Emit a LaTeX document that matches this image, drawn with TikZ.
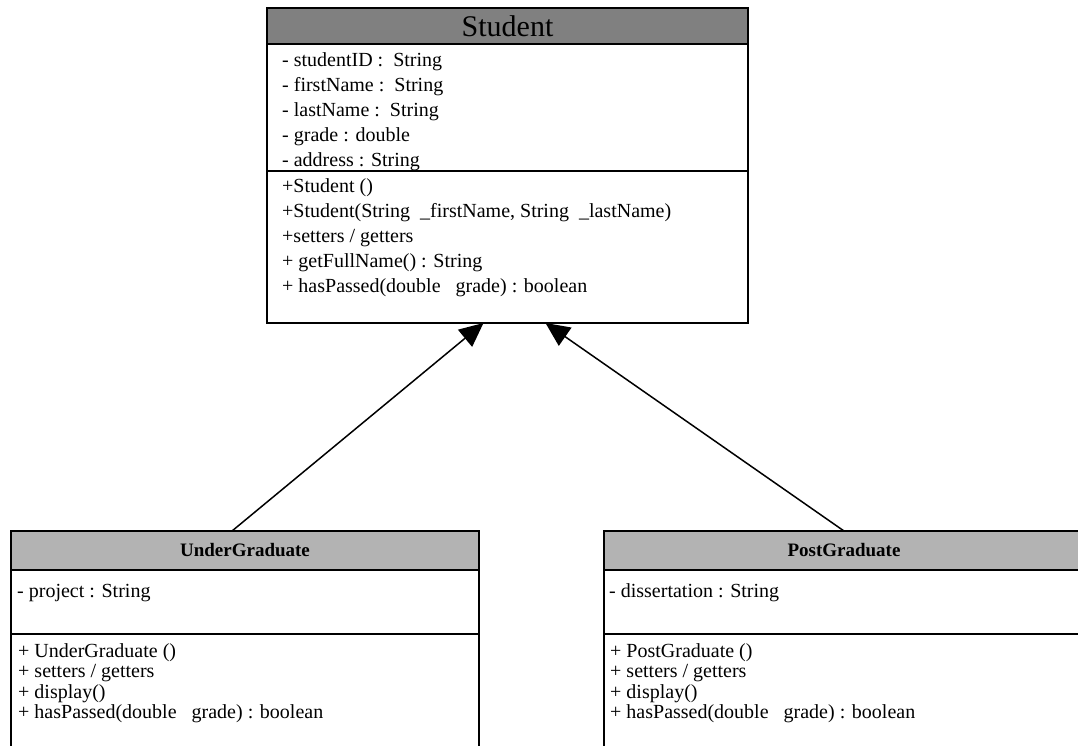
\documentclass[tikz,border=0pt]{standalone}
\usepackage{fontspec}
\setmainfont{Liberation Serif}
\usepackage{xcolor}
\usetikzlibrary{arrows.meta}
\definecolor{headgray}{RGB}{128,128,128}
\definecolor{subgray}{RGB}{179,179,179}
\tikzset{classbox/.style = {draw, rectangle, inner sep=0pt, outer sep=0pt, anchor=north west},
  member/.style = {anchor=base west, inner sep=0pt, font=\fontsize{20}{24}\selectfont},
  inherit/.style = {line width=1.5pt, -{Triangle[length=24pt,width=22pt]}}}

\begin{document}
\begin{tikzpicture}[x=1pt,y=-1pt]
  \useasboundingbox (0,0) rectangle (1078,745);
  \clip (0,0) rectangle (1078,745);
  % Student
  \node[classbox, line width=2.2pt, fill=headgray, minimum width=481pt, minimum height=36pt] (stuhead) at (267,8) {};
  \node[classbox, line width=2.2pt, minimum width=481pt, minimum height=315pt] (stu) at (267,8) {};
  \node[font=\fontsize{30}{30}\selectfont, inner sep=0pt] (stuname) at (stuhead.center) {Student};
  \draw[line width=1.3pt] (stu.west |- 0,171) -- (stu.east |- 0,171);
  \foreach \txt [count=\i from 0] in {- studentID :~~String, - firstName :~~String, - lastName :~~String,
      - grade : double, - address : String}
    \node[member] (sattr\i) at (282,{66.5+25*\i}) {\txt};
  \foreach \txt [count=\i from 0] in {+Student (), {+Student(String~~\_firstName, String~~\_lastName)},
      +setters / getters, + getFullName() : String, + hasPassed(double~~~grade) : boolean}
    \node[member] (sop\i) at (282,{192+25*\i}) {\txt};
  % UnderGraduate
  \node[classbox, line width=1.3pt, fill=subgray, minimum width=468pt, minimum height=39pt] (ughead) at (11,531) {};
  \node[classbox, line width=1.3pt, minimum width=468pt, minimum height=230pt] (ug) at (11,531) {};
  \node[font=\fontsize{19}{19}\selectfont\bfseries, inner sep=0pt] (ugname) at (ughead.center) {UnderGraduate};
  \draw[line width=1.3pt] (ug.west |- 0,634) -- (ug.east |- 0,634);
  \node[member] (uattr0) at (17,597) {- project : String};
  \foreach \txt [count=\i from 0] in {+ UnderGraduate (), + setters / getters, + display(),
      + hasPassed(double~~~grade) : boolean}
    \node[member] (uop\i) at (18,{657+20.5*\i}) {\txt};
  % PostGraduate
  \node[classbox, line width=1.3pt, fill=subgray, minimum width=480pt, minimum height=39pt] (pghead) at (604,531) {};
  \node[classbox, line width=1.3pt, minimum width=480pt, minimum height=230pt] (pg) at (604,531) {};
  \node[font=\fontsize{19}{19}\selectfont\bfseries, inner sep=0pt] (pgname) at (pghead.center) {PostGraduate};
  \draw[line width=1.3pt] (pg.west |- 0,634) -- (pg.east |- 0,634);
  \node[member] (pattr0) at (609,597) {- dissertation : String};
  \foreach \txt [count=\i from 0] in {+ PostGraduate (), + setters / getters, + display(),
      + hasPassed(double~~~grade) : boolean}
    \node[member] (pop\i) at (610,{657+20.5*\i}) {\txt};
  % inheritance
  \draw[inherit] ([xshift=-13pt]ug.north) -- ([xshift=-24pt]stu.south);
  \draw[inherit] (pg.north) -- ([xshift=38pt]stu.south);
\end{tikzpicture}
\end{document}
